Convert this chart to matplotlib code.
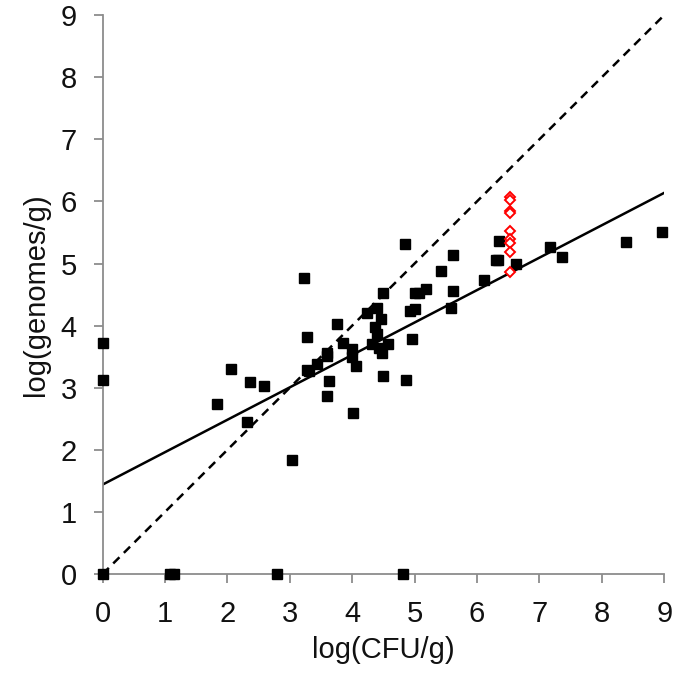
import matplotlib
matplotlib.use("Agg")
import matplotlib.pyplot as plt
import numpy as np

plt.rcParams['font.family'] = ['Liberation Sans', 'DejaVu Sans']

# black squares: log(CFU/g) vs log(genomes/g)
cfu = [0.0, 0.0, 0.0, 1.08, 1.15, 2.79, 4.82,
       1.83, 2.06, 2.31, 2.37, 2.58, 3.04, 3.23, 3.28, 3.28, 3.43,
       3.30, 3.59, 3.60, 3.59, 3.63, 3.75, 3.86, 3.99, 4.00, 4.06, 4.02,
       4.23, 4.31, 4.36, 4.39, 4.40, 4.43, 4.46, 4.47, 4.50, 4.50, 4.57,
       4.85, 4.86, 4.92, 4.96, 5.00, 5.01, 5.07, 5.19, 5.43, 5.59, 5.61,
       5.62, 6.11, 6.31, 6.34, 6.36, 6.62, 7.17, 7.37, 8.38, 8.96]
genomes = [3.72, 3.12, 0.0, 0.0, 0.0, 0.0, 0.0,
           2.74, 3.30, 2.45, 3.09, 3.03, 1.84, 4.76, 3.81, 3.28, 3.38,
           3.27, 3.56, 3.51, 2.86, 3.11, 4.03, 3.72, 3.62, 3.49, 3.35, 2.60,
           4.21, 3.70, 3.97, 3.86, 4.29, 3.64, 4.11, 3.56, 4.53, 3.19, 3.70,
           5.31, 3.12, 4.24, 3.78, 4.53, 4.26, 4.52, 4.59, 4.88, 4.29, 4.56,
           5.13, 4.73, 5.05, 5.06, 5.37, 4.99, 5.27, 5.10, 5.35, 5.51]

# red open diamonds
red_cfu = [6.53, 6.53, 6.53, 6.53, 6.53, 6.53, 6.53, 6.53, 6.53]
red_genomes = [6.07, 6.02, 5.84, 5.81, 5.52, 5.40, 5.33, 5.19, 4.87]

# regression line
fit_intercept = 1.44
fit_slope = 0.522

ticks = list(range(10))

fig = plt.figure(figsize=(6.75, 6.75), dpi=100)
ax = fig.add_axes([0.152, 0.1496, 0.832, 0.828])

xs = np.array([0, 9])
ax.plot(xs, xs, color="black", lw=1.8, ls=(0, (3.5, 2.5)))
ax.plot(xs, fit_intercept + fit_slope * xs, color="black", lw=1.8)

ax.plot(cfu, genomes, ls="none", marker="s", ms=7.5, color="black", clip_on=False, zorder=3)
ax.plot(red_cfu, red_genomes, ls="none", marker="D", ms=5.5, mfc="white", mec="red",
        mew=1.4, clip_on=False, zorder=4)

ax.set_xlim(0, 9)
ax.set_ylim(0, 9)
ax.set_xticks(ticks)
ax.set_yticks(ticks)
for side in ("top", "right"):
    ax.spines[side].set_visible(False)
for side in ("left", "bottom"):
    ax.spines[side].set_color("#8c8c8c")
    ax.spines[side].set_linewidth(1.3)
ax.tick_params(direction="out", length=6.5, width=1.3, color="#8c8c8c",
               labelsize=21, labelcolor="#111111", pad=12)

ax.set_xlabel("log(CFU/g)", fontsize=21, color="#111111", labelpad=6)
ax.set_ylabel("log(genomes/g)", fontsize=21, color="#111111", labelpad=8)

fig.savefig("out.png", dpi=100)
